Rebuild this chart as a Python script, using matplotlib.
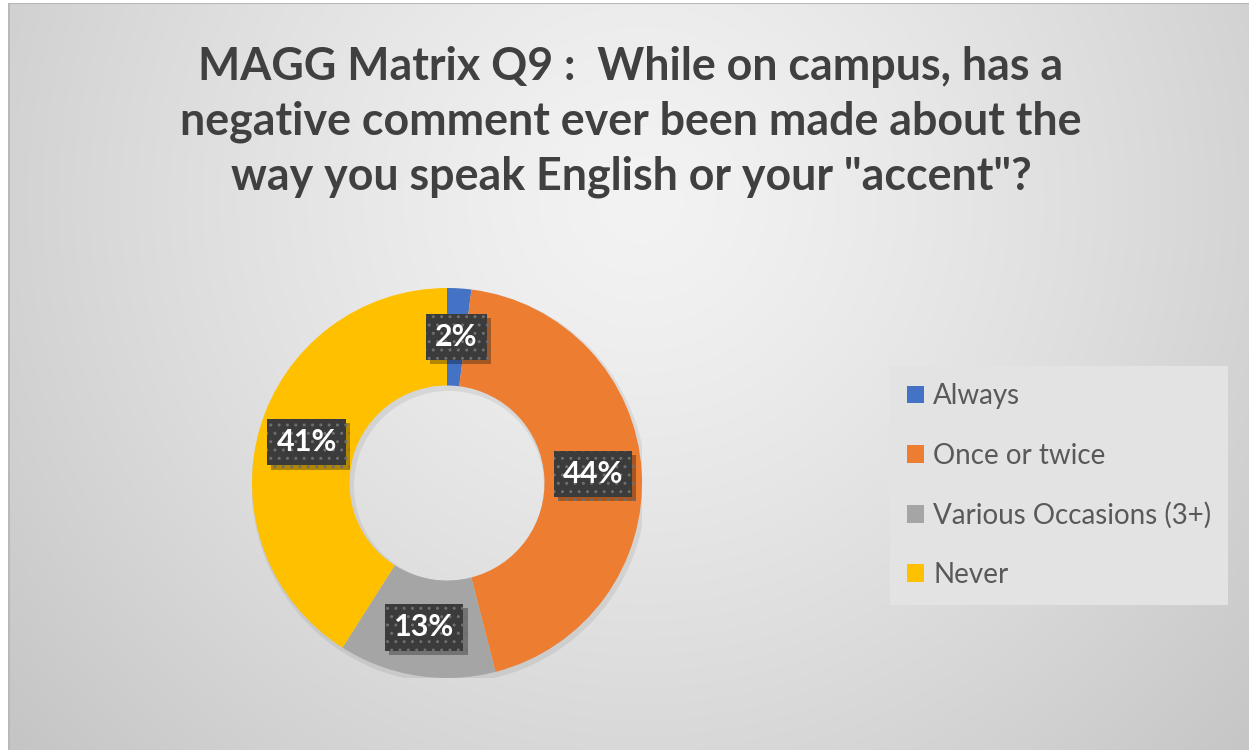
import numpy as np
import matplotlib
matplotlib.use("Agg")
import matplotlib.pyplot as plt
import matplotlib.patheffects as pe
from matplotlib.patches import Patch, Wedge

# survey answers, clockwise from 12 o'clock
categories = ["Always", "Once or twice", "Various Occasions (3+)", "Never"]
shares = [2, 44, 13, 41]
colors = ["#4472C4", "#ED7D31", "#A5A5A5", "#FFC000"]
title = ('MAGG Matrix Q9 :  While on campus, has a\n'
         'negative comment ever been made about the\n'
         'way you speak English or your "accent"?')

W, H = 1249, 750
plt.rcParams["font.family"] = ["Lato", "DejaVu Sans"]
fig = plt.figure(figsize=(W / 100, H / 100), dpi=100)


def px(x0, y0, w, h):
    """pixel box (top-left origin) -> figure fraction rect"""
    return [x0 / W, 1 - (y0 + h) / H, w / W, h / H]


# radial grey backdrop
bg = fig.add_axes(px(8, 3, W - 8, H - 3))
bg.set_axis_off()
yy, xx = np.mgrid[3:H, 8:W]
d = np.hypot(xx - 640, yy - 200) / 830.0
shade = (243 - 46 * d ** 1.3) / 255.0
bg.imshow(np.dstack([shade] * 3), extent=(0, 1, 0, 1), aspect="auto",
          interpolation="bilinear")
bg.set_xlim(0, 1)
bg.set_ylim(0, 1)
bg.plot([0, 1], [1, 1], color="#b8b8b8", lw=1.5, transform=bg.transAxes)
bg.plot([0, 0], [0, 1], color="#b8b8b8", lw=2, transform=bg.transAxes)

fig.text(631 / W, 1 - 122 / H, title, ha="center", va="center",
         fontsize=32.2, fontweight="bold", color="#404040", linespacing=1.37)

# donut
R = 195
ax = fig.add_axes(px(447 - R, 483 - R, 2 * R, 2 * R))
ax.patch.set_alpha(0)
ax.add_patch(Wedge((0.01, -0.015), 1.012, 0, 360, width=0.525,
                   fc="black", alpha=0.07, lw=0, zorder=0))
wedges, _, autotexts = ax.pie(
    shares, colors=colors, startangle=90, counterclock=False,
    wedgeprops=dict(width=0.5, linewidth=0), autopct="%1.0f%%",
    pctdistance=0.75, textprops=dict(color="white", fontsize=22,
                                     fontweight="bold"))
ax.set_xlim(-1, 1)
ax.set_ylim(-1, 1)
ax.set_aspect("equal")

for t in autotexts:
    t.set_ha("center")
    t.set_va("center")
    t.set_zorder(5)
    t.set_bbox(dict(boxstyle="square,pad=0.3", fc="#3b3b3b", ec="#6e6e6e",
                    lw=0, hatch=".."))
    t.get_bbox_patch().set_path_effects(
        [pe.SimplePatchShadow(offset=(3, -3), shadow_rgbFace="black",
                              alpha=0.3), pe.Normal()])

handles = [Patch(fc=c, ec="none") for c in colors]
leg = fig.legend(handles, categories, loc="upper left",
                 bbox_to_anchor=(890 / W, 1 - 366 / H), borderaxespad=0,
                 frameon=True, fancybox=False, framealpha=1,
                 facecolor="#e3e3e3", edgecolor="none", fontsize=20,
                 handlelength=0.6, handleheight=0.6, handletextpad=0.33,
                 labelspacing=1.2, borderpad=0.62, labelcolor="#595959")

fig.savefig("out.png", dpi=100)
